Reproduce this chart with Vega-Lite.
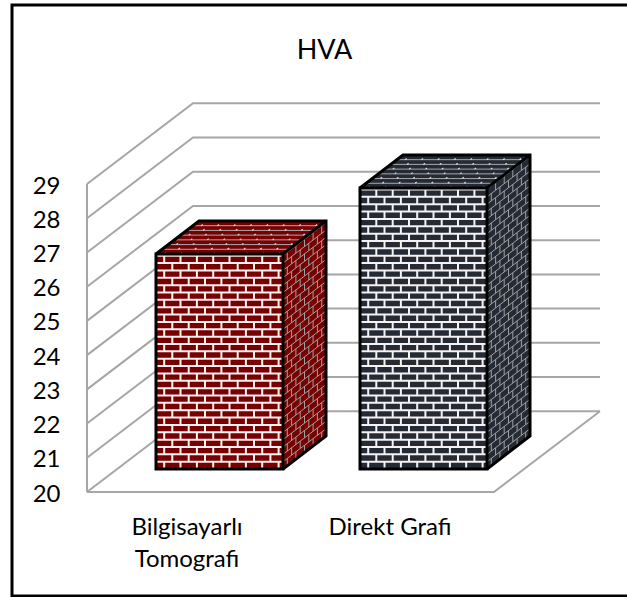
{"$schema":"https://vega.github.io/schema/vega-lite/v6.json","width":627,"height":597,"padding":0,"autosize":"none","background":"white","config":{"view":{"stroke":null}},
"title":{"text":"HVA","anchor":"middle","offset":-66,"dx":11,"fontSize":27,"font":"Lato","fontWeight":"normal","color":"black"},
"datasets":{
"grid":[
{"s":"20","o":1,"x":0.87,"y":20},{"s":"20","o":2,"x":1.93,"y":22.36},{"s":"20","o":3,"x":6.0,"y":22.36},
{"s":"21","o":1,"x":0.87,"y":21},{"s":"21","o":2,"x":1.93,"y":23.36},{"s":"21","o":3,"x":6.0,"y":23.36},
{"s":"22","o":1,"x":0.87,"y":22},{"s":"22","o":2,"x":1.93,"y":24.36},{"s":"22","o":3,"x":6.0,"y":24.36},
{"s":"23","o":1,"x":0.87,"y":23},{"s":"23","o":2,"x":1.93,"y":25.36},{"s":"23","o":3,"x":6.0,"y":25.36},
{"s":"24","o":1,"x":0.87,"y":24},{"s":"24","o":2,"x":1.93,"y":26.36},{"s":"24","o":3,"x":6.0,"y":26.36},
{"s":"25","o":1,"x":0.87,"y":25},{"s":"25","o":2,"x":1.93,"y":27.36},{"s":"25","o":3,"x":6.0,"y":27.36},
{"s":"26","o":1,"x":0.87,"y":26},{"s":"26","o":2,"x":1.93,"y":28.36},{"s":"26","o":3,"x":6.0,"y":28.36},
{"s":"27","o":1,"x":0.87,"y":27},{"s":"27","o":2,"x":1.93,"y":29.36},{"s":"27","o":3,"x":6.0,"y":29.36},
{"s":"28","o":1,"x":0.87,"y":28},{"s":"28","o":2,"x":1.93,"y":30.36},{"s":"28","o":3,"x":6.0,"y":30.36},
{"s":"29","o":1,"x":0.87,"y":29},{"s":"29","o":2,"x":1.93,"y":31.36},{"s":"29","o":3,"x":6.0,"y":31.36},
{"s":"L","o":1,"x":0.87,"y":20},{"s":"L","o":2,"x":0.87,"y":29},
{"s":"F","o":1,"x":0.87,"y":20},{"s":"F","o":2,"x":4.94,"y":20},{"s":"F","o":3,"x":6.0,"y":22.36}],
"frame":[{"o":1,"x":6.27,"y":34.231},{"o":2,"x":0.12,"y":34.231},{"o":3,"x":0.12,"y":16.961},{"o":4,"x":6.27,"y":16.961}],
"bars":[{"bar":"Bilgisayarlı Tomografi","x":1.56,"x2":2.83,"y":26.955,"y2":20.67},{"bar":"Direkt Grafi","x":3.6,"x2":4.87,"y":28.884,"y2":20.67}],
"faces":[
{"bar":"Bilgisayarlı Tomografi","face":"top","x":1.56,"y":26.955,"y2":26.955},{"bar":"Bilgisayarlı Tomografi","face":"top","x":1.99,"y":27.92,"y2":26.955},{"bar":"Bilgisayarlı Tomografi","face":"top","x":2.83,"y":27.92,"y2":26.955},{"bar":"Bilgisayarlı Tomografi","face":"top","x":3.26,"y":27.92,"y2":27.92},
{"bar":"Bilgisayarlı Tomografi","face":"side","x":2.83,"y":26.955,"y2":20.67},{"bar":"Bilgisayarlı Tomografi","face":"side","x":3.26,"y":27.92,"y2":21.635},
{"bar":"Direkt Grafi","face":"top","x":3.6,"y":28.884,"y2":28.884},{"bar":"Direkt Grafi","face":"top","x":4.03,"y":29.849,"y2":28.884},{"bar":"Direkt Grafi","face":"top","x":4.87,"y":29.849,"y2":28.884},{"bar":"Direkt Grafi","face":"top","x":5.3,"y":29.849,"y2":29.849},
{"bar":"Direkt Grafi","face":"side","x":4.87,"y":28.884,"y2":20.67},{"bar":"Direkt Grafi","face":"side","x":5.3,"y":29.849,"y2":21.635}],
"edges":[
{"s":"R1","o":1,"x":1.56,"y":26.955},{"s":"R1","o":2,"x":1.99,"y":27.92},{"s":"R1","o":3,"x":3.26,"y":27.92},{"s":"R1","o":4,"x":3.26,"y":21.635},{"s":"R1","o":5,"x":2.83,"y":20.67},
{"s":"R2","o":1,"x":2.83,"y":26.955},{"s":"R2","o":2,"x":3.26,"y":27.92},
{"s":"D1","o":1,"x":3.6,"y":28.884},{"s":"D1","o":2,"x":4.03,"y":29.849},{"s":"D1","o":3,"x":5.3,"y":29.849},{"s":"D1","o":4,"x":5.3,"y":21.635},{"s":"D1","o":5,"x":4.87,"y":20.67},
{"s":"D2","o":1,"x":4.87,"y":28.884},{"s":"D2","o":2,"x":5.3,"y":29.849}],
"labels":[{"label":"Bilgisayarlı\nTomografi","x":1.87,"y":18.743},{"label":"Direkt Grafi","x":3.9,"y":18.743}],
"coursesFront":[
{"x":1.56,"x2":2.83,"y":20.885},{"x":1.56,"x2":2.83,"y":21.1},{"x":1.56,"x2":2.83,"y":21.315},{"x":1.56,"x2":2.83,"y":21.53},{"x":1.56,"x2":2.83,"y":21.745},{"x":1.56,"x2":2.83,"y":21.96},{"x":1.56,"x2":2.83,"y":22.175},{"x":1.56,"x2":2.83,"y":22.39},{"x":1.56,"x2":2.83,"y":22.605},{"x":1.56,"x2":2.83,"y":22.82},{"x":1.56,"x2":2.83,"y":23.035},{"x":1.56,"x2":2.83,"y":23.25},{"x":1.56,"x2":2.83,"y":23.465},{"x":1.56,"x2":2.83,"y":23.68},{"x":1.56,"x2":2.83,"y":23.895},{"x":1.56,"x2":2.83,"y":24.11},{"x":1.56,"x2":2.83,"y":24.325},{"x":1.56,"x2":2.83,"y":24.54},{"x":1.56,"x2":2.83,"y":24.755},{"x":1.56,"x2":2.83,"y":24.97},{"x":1.56,"x2":2.83,"y":25.185},{"x":1.56,"x2":2.83,"y":25.4},{"x":1.56,"x2":2.83,"y":25.615},{"x":1.56,"x2":2.83,"y":25.83},{"x":1.56,"x2":2.83,"y":26.045},{"x":1.56,"x2":2.83,"y":26.26},{"x":1.56,"x2":2.83,"y":26.475},{"x":1.56,"x2":2.83,"y":26.69},{"x":1.56,"x2":2.83,"y":26.905},
{"x":3.6,"x2":4.87,"y":20.885},{"x":3.6,"x2":4.87,"y":21.1},{"x":3.6,"x2":4.87,"y":21.315},{"x":3.6,"x2":4.87,"y":21.53},{"x":3.6,"x2":4.87,"y":21.745},{"x":3.6,"x2":4.87,"y":21.96},{"x":3.6,"x2":4.87,"y":22.175},{"x":3.6,"x2":4.87,"y":22.39},{"x":3.6,"x2":4.87,"y":22.605},{"x":3.6,"x2":4.87,"y":22.82},{"x":3.6,"x2":4.87,"y":23.035},{"x":3.6,"x2":4.87,"y":23.25},{"x":3.6,"x2":4.87,"y":23.465},{"x":3.6,"x2":4.87,"y":23.68},{"x":3.6,"x2":4.87,"y":23.895},{"x":3.6,"x2":4.87,"y":24.11},{"x":3.6,"x2":4.87,"y":24.325},{"x":3.6,"x2":4.87,"y":24.54},{"x":3.6,"x2":4.87,"y":24.755},{"x":3.6,"x2":4.87,"y":24.97},{"x":3.6,"x2":4.87,"y":25.185},{"x":3.6,"x2":4.87,"y":25.4},{"x":3.6,"x2":4.87,"y":25.615},{"x":3.6,"x2":4.87,"y":25.83},{"x":3.6,"x2":4.87,"y":26.045},{"x":3.6,"x2":4.87,"y":26.26},{"x":3.6,"x2":4.87,"y":26.475},{"x":3.6,"x2":4.87,"y":26.69},{"x":3.6,"x2":4.87,"y":26.905},{"x":3.6,"x2":4.87,"y":27.12},{"x":3.6,"x2":4.87,"y":27.335},{"x":3.6,"x2":4.87,"y":27.55},{"x":3.6,"x2":4.87,"y":27.765},{"x":3.6,"x2":4.87,"y":27.98},{"x":3.6,"x2":4.87,"y":28.195},{"x":3.6,"x2":4.87,"y":28.41},{"x":3.6,"x2":4.87,"y":28.625},{"x":3.6,"x2":4.87,"y":28.84}],
"coursesSide":[
{"x":2.83,"x2":3.26,"y":20.885,"y2":21.85},{"x":2.83,"x2":3.26,"y":21.1,"y2":22.065},{"x":2.83,"x2":3.26,"y":21.315,"y2":22.28},{"x":2.83,"x2":3.26,"y":21.53,"y2":22.495},{"x":2.83,"x2":3.26,"y":21.745,"y2":22.71},{"x":2.83,"x2":3.26,"y":21.96,"y2":22.925},{"x":2.83,"x2":3.26,"y":22.175,"y2":23.14},{"x":2.83,"x2":3.26,"y":22.39,"y2":23.355},{"x":2.83,"x2":3.26,"y":22.605,"y2":23.57},{"x":2.83,"x2":3.26,"y":22.82,"y2":23.785},{"x":2.83,"x2":3.26,"y":23.035,"y2":24.0},{"x":2.83,"x2":3.26,"y":23.25,"y2":24.215},{"x":2.83,"x2":3.26,"y":23.465,"y2":24.43},{"x":2.83,"x2":3.26,"y":23.68,"y2":24.645},{"x":2.83,"x2":3.26,"y":23.895,"y2":24.86},{"x":2.83,"x2":3.26,"y":24.11,"y2":25.075},{"x":2.83,"x2":3.26,"y":24.325,"y2":25.29},{"x":2.83,"x2":3.26,"y":24.54,"y2":25.505},{"x":2.83,"x2":3.26,"y":24.755,"y2":25.72},{"x":2.83,"x2":3.26,"y":24.97,"y2":25.935},{"x":2.83,"x2":3.26,"y":25.185,"y2":26.15},{"x":2.83,"x2":3.26,"y":25.4,"y2":26.365},{"x":2.83,"x2":3.26,"y":25.615,"y2":26.58},{"x":2.83,"x2":3.26,"y":25.83,"y2":26.795},{"x":2.83,"x2":3.26,"y":26.045,"y2":27.01},{"x":2.83,"x2":3.26,"y":26.26,"y2":27.225},{"x":2.83,"x2":3.26,"y":26.475,"y2":27.44},{"x":2.83,"x2":3.26,"y":26.69,"y2":27.655},{"x":2.83,"x2":3.26,"y":26.905,"y2":27.87},
{"x":4.87,"x2":5.3,"y":20.885,"y2":21.85},{"x":4.87,"x2":5.3,"y":21.1,"y2":22.065},{"x":4.87,"x2":5.3,"y":21.315,"y2":22.28},{"x":4.87,"x2":5.3,"y":21.53,"y2":22.495},{"x":4.87,"x2":5.3,"y":21.745,"y2":22.71},{"x":4.87,"x2":5.3,"y":21.96,"y2":22.925},{"x":4.87,"x2":5.3,"y":22.175,"y2":23.14},{"x":4.87,"x2":5.3,"y":22.39,"y2":23.355},{"x":4.87,"x2":5.3,"y":22.605,"y2":23.57},{"x":4.87,"x2":5.3,"y":22.82,"y2":23.785},{"x":4.87,"x2":5.3,"y":23.035,"y2":24.0},{"x":4.87,"x2":5.3,"y":23.25,"y2":24.215},{"x":4.87,"x2":5.3,"y":23.465,"y2":24.43},{"x":4.87,"x2":5.3,"y":23.68,"y2":24.645},{"x":4.87,"x2":5.3,"y":23.895,"y2":24.86},{"x":4.87,"x2":5.3,"y":24.11,"y2":25.075},{"x":4.87,"x2":5.3,"y":24.325,"y2":25.29},{"x":4.87,"x2":5.3,"y":24.54,"y2":25.505},{"x":4.87,"x2":5.3,"y":24.755,"y2":25.72},{"x":4.87,"x2":5.3,"y":24.97,"y2":25.935},{"x":4.87,"x2":5.3,"y":25.185,"y2":26.15},{"x":4.87,"x2":5.3,"y":25.4,"y2":26.365},{"x":4.87,"x2":5.3,"y":25.615,"y2":26.58},{"x":4.87,"x2":5.3,"y":25.83,"y2":26.795},{"x":4.87,"x2":5.3,"y":26.045,"y2":27.01},{"x":4.87,"x2":5.3,"y":26.26,"y2":27.225},{"x":4.87,"x2":5.3,"y":26.475,"y2":27.44},{"x":4.87,"x2":5.3,"y":26.69,"y2":27.655},{"x":4.87,"x2":5.3,"y":26.905,"y2":27.87},{"x":4.87,"x2":5.3,"y":27.12,"y2":28.085},{"x":4.87,"x2":5.3,"y":27.335,"y2":28.3},{"x":4.87,"x2":5.3,"y":27.55,"y2":28.515},{"x":4.87,"x2":5.3,"y":27.765,"y2":28.73},{"x":4.87,"x2":5.3,"y":27.98,"y2":28.945},{"x":4.87,"x2":5.3,"y":28.195,"y2":29.16},{"x":4.87,"x2":5.3,"y":28.41,"y2":29.375},{"x":4.87,"x2":5.3,"y":28.625,"y2":29.59},{"x":4.87,"x2":5.3,"y":28.84,"y2":29.805}],
"coursesTop":[
{"x":1.621,"x2":2.891,"y":27.093},{"x":1.683,"x2":2.953,"y":27.231},{"x":1.744,"x2":3.014,"y":27.369},{"x":1.806,"x2":3.076,"y":27.507},{"x":1.867,"x2":3.137,"y":27.645},{"x":1.929,"x2":3.199,"y":27.783},
{"x":3.661,"x2":4.931,"y":29.022},{"x":3.723,"x2":4.993,"y":29.16},{"x":3.784,"x2":5.054,"y":29.298},{"x":3.846,"x2":5.116,"y":29.436},{"x":3.907,"x2":5.177,"y":29.574},{"x":3.969,"x2":5.239,"y":29.712}],
"jointsFront":[
{"x":1.642,"y":20.67,"y2":26.955,"p":"a"},{"x":1.723,"y":20.67,"y2":26.955,"p":"b"},{"x":1.805,"y":20.67,"y2":26.955,"p":"a"},{"x":1.887,"y":20.67,"y2":26.955,"p":"b"},{"x":1.969,"y":20.67,"y2":26.955,"p":"a"},{"x":2.05,"y":20.67,"y2":26.955,"p":"b"},{"x":2.132,"y":20.67,"y2":26.955,"p":"a"},{"x":2.214,"y":20.67,"y2":26.955,"p":"b"},{"x":2.295,"y":20.67,"y2":26.955,"p":"a"},{"x":2.377,"y":20.67,"y2":26.955,"p":"b"},{"x":2.459,"y":20.67,"y2":26.955,"p":"a"},{"x":2.54,"y":20.67,"y2":26.955,"p":"b"},{"x":2.622,"y":20.67,"y2":26.955,"p":"a"},{"x":2.704,"y":20.67,"y2":26.955,"p":"b"},{"x":2.786,"y":20.67,"y2":26.955,"p":"a"},
{"x":3.682,"y":20.67,"y2":28.884,"p":"a"},{"x":3.763,"y":20.67,"y2":28.884,"p":"b"},{"x":3.845,"y":20.67,"y2":28.884,"p":"a"},{"x":3.927,"y":20.67,"y2":28.884,"p":"b"},{"x":4.009,"y":20.67,"y2":28.884,"p":"a"},{"x":4.09,"y":20.67,"y2":28.884,"p":"b"},{"x":4.172,"y":20.67,"y2":28.884,"p":"a"},{"x":4.254,"y":20.67,"y2":28.884,"p":"b"},{"x":4.335,"y":20.67,"y2":28.884,"p":"a"},{"x":4.417,"y":20.67,"y2":28.884,"p":"b"},{"x":4.499,"y":20.67,"y2":28.884,"p":"a"},{"x":4.58,"y":20.67,"y2":28.884,"p":"b"},{"x":4.662,"y":20.67,"y2":28.884,"p":"a"},{"x":4.744,"y":20.67,"y2":28.884,"p":"b"},{"x":4.826,"y":20.67,"y2":28.884,"p":"a"}],
"jointsSide":[
{"x":2.873,"y":20.767,"y2":27.052,"p":"a"},{"x":2.916,"y":20.863,"y2":27.148,"p":"b"},{"x":2.959,"y":20.96,"y2":27.245,"p":"a"},{"x":3.002,"y":21.056,"y2":27.341,"p":"b"},{"x":3.045,"y":21.153,"y2":27.438,"p":"a"},{"x":3.088,"y":21.249,"y2":27.534,"p":"b"},{"x":3.131,"y":21.346,"y2":27.631,"p":"a"},{"x":3.174,"y":21.442,"y2":27.727,"p":"b"},{"x":3.217,"y":21.539,"y2":27.824,"p":"a"},
{"x":4.913,"y":20.767,"y2":28.981,"p":"a"},{"x":4.956,"y":20.863,"y2":29.077,"p":"b"},{"x":4.999,"y":20.96,"y2":29.174,"p":"a"},{"x":5.042,"y":21.056,"y2":29.27,"p":"b"},{"x":5.085,"y":21.153,"y2":29.367,"p":"a"},{"x":5.128,"y":21.249,"y2":29.463,"p":"b"},{"x":5.171,"y":21.346,"y2":29.56,"p":"a"},{"x":5.214,"y":21.442,"y2":29.656,"p":"b"},{"x":5.257,"y":21.539,"y2":29.753,"p":"a"}],
"jointsTop":[
{"x":1.642,"x2":2.072,"y":26.955,"y2":27.92,"p":"c"},{"x":1.723,"x2":2.153,"y":26.955,"y2":27.92,"p":"d"},{"x":1.805,"x2":2.235,"y":26.955,"y2":27.92,"p":"c"},{"x":1.887,"x2":2.317,"y":26.955,"y2":27.92,"p":"d"},{"x":1.969,"x2":2.399,"y":26.955,"y2":27.92,"p":"c"},{"x":2.05,"x2":2.48,"y":26.955,"y2":27.92,"p":"d"},{"x":2.132,"x2":2.562,"y":26.955,"y2":27.92,"p":"c"},{"x":2.214,"x2":2.644,"y":26.955,"y2":27.92,"p":"d"},{"x":2.295,"x2":2.725,"y":26.955,"y2":27.92,"p":"c"},{"x":2.377,"x2":2.807,"y":26.955,"y2":27.92,"p":"d"},{"x":2.459,"x2":2.889,"y":26.955,"y2":27.92,"p":"c"},{"x":2.54,"x2":2.97,"y":26.955,"y2":27.92,"p":"d"},{"x":2.622,"x2":3.052,"y":26.955,"y2":27.92,"p":"c"},{"x":2.704,"x2":3.134,"y":26.955,"y2":27.92,"p":"d"},{"x":2.786,"x2":3.216,"y":26.955,"y2":27.92,"p":"c"},
{"x":3.682,"x2":4.112,"y":28.884,"y2":29.849,"p":"c"},{"x":3.763,"x2":4.193,"y":28.884,"y2":29.849,"p":"d"},{"x":3.845,"x2":4.275,"y":28.884,"y2":29.849,"p":"c"},{"x":3.927,"x2":4.357,"y":28.884,"y2":29.849,"p":"d"},{"x":4.009,"x2":4.439,"y":28.884,"y2":29.849,"p":"c"},{"x":4.09,"x2":4.52,"y":28.884,"y2":29.849,"p":"d"},{"x":4.172,"x2":4.602,"y":28.884,"y2":29.849,"p":"c"},{"x":4.254,"x2":4.684,"y":28.884,"y2":29.849,"p":"d"},{"x":4.335,"x2":4.765,"y":28.884,"y2":29.849,"p":"c"},{"x":4.417,"x2":4.847,"y":28.884,"y2":29.849,"p":"d"},{"x":4.499,"x2":4.929,"y":28.884,"y2":29.849,"p":"c"},{"x":4.58,"x2":5.01,"y":28.884,"y2":29.849,"p":"d"},{"x":4.662,"x2":5.092,"y":28.884,"y2":29.849,"p":"c"},{"x":4.744,"x2":5.174,"y":28.884,"y2":29.849,"p":"d"},{"x":4.826,"x2":5.256,"y":28.884,"y2":29.849,"p":"c"}]
},
"data":{"name":"grid"},
"encoding":{
"x":{"field":"x","type":"quantitative","scale":{"domain":[0,6.27],"nice":false,"zero":false},"axis":null},
"y":{"field":"y","type":"quantitative","scale":{"domain":[16.932,34.378],"nice":false,"zero":false},"axis":{"title":null,"values":[20,21,22,23,24,25,26,27,28,29],"domain":false,"ticks":false,"grid":false,"offset":-66,"labelPadding":6,"labelFont":"Lato","labelFontSize":24,"labelColor":"black","labelBaseline":"middle","labelOffset":2}}
},
"layer":[
{"data":{"name":"frame"},"mark":{"type":"line","stroke":"black","strokeWidth":3,"clip":false},"encoding":{"order":{"field":"o"}}},
{"mark":{"type":"line","stroke":"#a6a6a6","strokeWidth":2},"encoding":{"detail":{"field":"s"},"order":{"field":"o"}}},
{"data":{"name":"bars"},"mark":{"type":"rect"},"encoding":{"x2":{"field":"x2"},"y2":{"field":"y2"},"fill":{"field":"bar","scale":{"domain":["Bilgisayarlı Tomografi","Direkt Grafi"],"range":["#780000","#252b35"]},"legend":null}}},
{"data":{"name":"faces"},"mark":{"type":"area"},"encoding":{"y2":{"field":"y2"},"detail":{"field":"face"},"fill":{"field":"bar","legend":null}}},
{"data":{"name":"coursesFront"},"mark":{"type":"rule","stroke":"#f6f2f2","strokeWidth":2},"encoding":{"x2":{"field":"x2"}}},
{"data":{"name":"jointsFront"},"mark":{"type":"rule","stroke":"#f6f2f2","strokeWidth":2},"encoding":{"y2":{"field":"y2"},"strokeDash":{"field":"p","scale":{"domain":["a","b","c","d"],"range":[[7.36,7.36],[0,7.36,7.36,0],[2,13.5],[0,7.74,2,5.76]]},"legend":null}}},
{"data":{"name":"coursesSide"},"mark":{"type":"rule","stroke":"#a0a0a0","strokeWidth":1},"encoding":{"x2":{"field":"x2"},"y2":{"field":"y2"}}},
{"data":{"name":"jointsSide"},"mark":{"type":"rule","stroke":"#a0a0a0","strokeWidth":1},"encoding":{"y2":{"field":"y2"},"strokeDash":{"field":"p","legend":null}}},
{"data":{"name":"coursesTop"},"mark":{"type":"rule","stroke":"#a8a8a8","strokeWidth":1},"encoding":{"x2":{"field":"x2"}}},
{"data":{"name":"jointsTop"},"mark":{"type":"rule","stroke":"#dddddd","strokeWidth":1.2},"encoding":{"x2":{"field":"x2"},"y2":{"field":"y2"},"strokeDash":{"field":"p","legend":null}}},
{"data":{"name":"bars"},"mark":{"type":"rect","fillOpacity":0,"stroke":"black","strokeWidth":3},"encoding":{"x2":{"field":"x2"},"y2":{"field":"y2"}}},
{"data":{"name":"edges"},"mark":{"type":"line","stroke":"black","strokeWidth":3},"encoding":{"detail":{"field":"s"},"order":{"field":"o"}}},
{"data":{"name":"labels"},"mark":{"type":"text","font":"Lato","fontSize":24,"color":"black","lineBreak":"\n","lineHeight":32,"align":"center","baseline":"alphabetic"},"encoding":{"text":{"field":"label"}}}
]}
